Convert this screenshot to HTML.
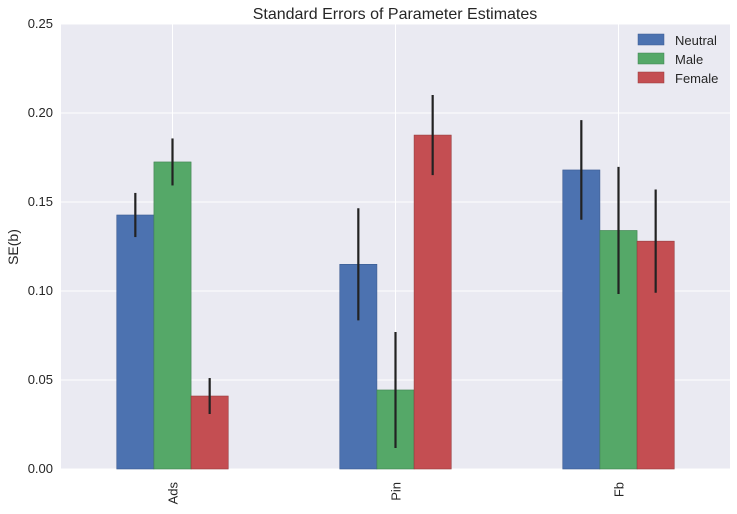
<!DOCTYPE html>
<html><head><meta charset="utf-8"><style>
body{margin:0;background:#fff;font-family:"Liberation Sans",sans-serif;}
svg text{font-family:"Liberation Sans",sans-serif;}
</style></head><body>
<svg id="chart" width="737" height="509">
<rect x="61" y="24" width="669" height="445" fill="#EAEAF2"/>
<g id="grid"></g><g id="bars"></g><g id="axes"></g>
<text x="395" y="19" text-anchor="middle" font-size="16" fill="#262626">Standard Errors of Parameter Estimates</text>
<text x="18" y="247" text-anchor="middle" font-size="14" fill="#262626" transform="rotate(-90 18 247)">SE(b)</text>
<g>
<rect x="638" y="34" width="26" height="11" fill="#4C72B0" stroke="#3a5a90" stroke-width="0.5"/>
<text x="675" y="45" font-size="13" fill="#262626">Neutral</text>
<rect x="638" y="53" width="26" height="11" fill="#55A868" stroke="#3f8050" stroke-width="0.5"/>
<text x="675" y="64" font-size="13" fill="#262626">Male</text>
<rect x="638" y="72" width="26" height="11" fill="#C44E52" stroke="#953a3d" stroke-width="0.5"/>
<text x="675" y="83" font-size="13" fill="#262626">Female</text>
</g>
</svg>
<script>
const categories=["Ads","Pin","Fb"];
const seriesNames=["Neutral","Male","Female"];
const neutral=[0.1427,0.115,0.168];
const male=[0.1725,0.0444,0.134];
const female=[0.041,0.1876,0.128];
const errNeutral=[0.0124,0.0315,0.028];
const errMale=[0.0132,0.0326,0.0357];
const errFemale=[0.0101,0.0225,0.029];
const yTicks=[0,0.05,0.10,0.15,0.20,0.25];
const yTickLabels=["0.00","0.05","0.10","0.15","0.20","0.25"];
const colors=["#4C72B0","#55A868","#C44E52"];
const strokes=["#3a5a90","#3f8050","#953a3d"];
const NS="http://www.w3.org/2000/svg";
const X0=61,W=669,Y0=469,H=445;
const xs=i=>X0+(i+0.5)*W/categories.length;
const ys=v=>Y0-v/0.25*H;
const unit=W/categories.length;
function mk(t,a,p){const e=document.createElementNS(NS,t);for(const k in a)e.setAttribute(k,a[k]);p.appendChild(e);return e;}
const grid=document.getElementById('grid'),bars=document.getElementById('bars'),axes=document.getElementById('axes');
yTicks.forEach((v,i)=>{
 const l=mk('line',{x1:X0,x2:X0+W,y1:ys(v),y2:ys(v),stroke:'#fff','stroke-width':1},grid);
 
 
 const t=mk('text',{x:X0-8,y:ys(v)+4,'text-anchor':'end','font-size':13,fill:'#262626'},axes);
 t.textContent=yTickLabels[i];
 
 
});
categories.forEach((c,i)=>{
 const l=mk('line',{x1:xs(i),x2:xs(i),y1:ys(0.25),y2:Y0,stroke:'#fff','stroke-width':1},grid);
 
 
 const x=xs(i)+5,y=Y0+13;
 const t=mk('text',{x:x,y:y,'text-anchor':'end','font-size':13,fill:'#262626',transform:`rotate(-90 ${x} ${y})`},axes);
 t.textContent=c;
 
 
});
const series=[neutral,male,female],errs=[errNeutral,errMale,errFemale];
const bw=unit*0.5/3;
series.forEach((s,k)=>{
 s.forEach((v,i)=>{
  const bx=xs(i)-unit*0.25+k*bw;
  const r=mk('rect',{x:bx,y:ys(v),width:bw,height:Y0-ys(v),fill:colors[k],stroke:strokes[k],'stroke-width':0.6},bars);
  
  
  const cx=bx+bw/2,e=errs[k][i];
  const el=mk('line',{x1:cx,x2:cx,y1:ys(v+e),y2:ys(v-e),stroke:'#222','stroke-width':2.2},bars);
  
  
 });
});
</script>
</body></html>
